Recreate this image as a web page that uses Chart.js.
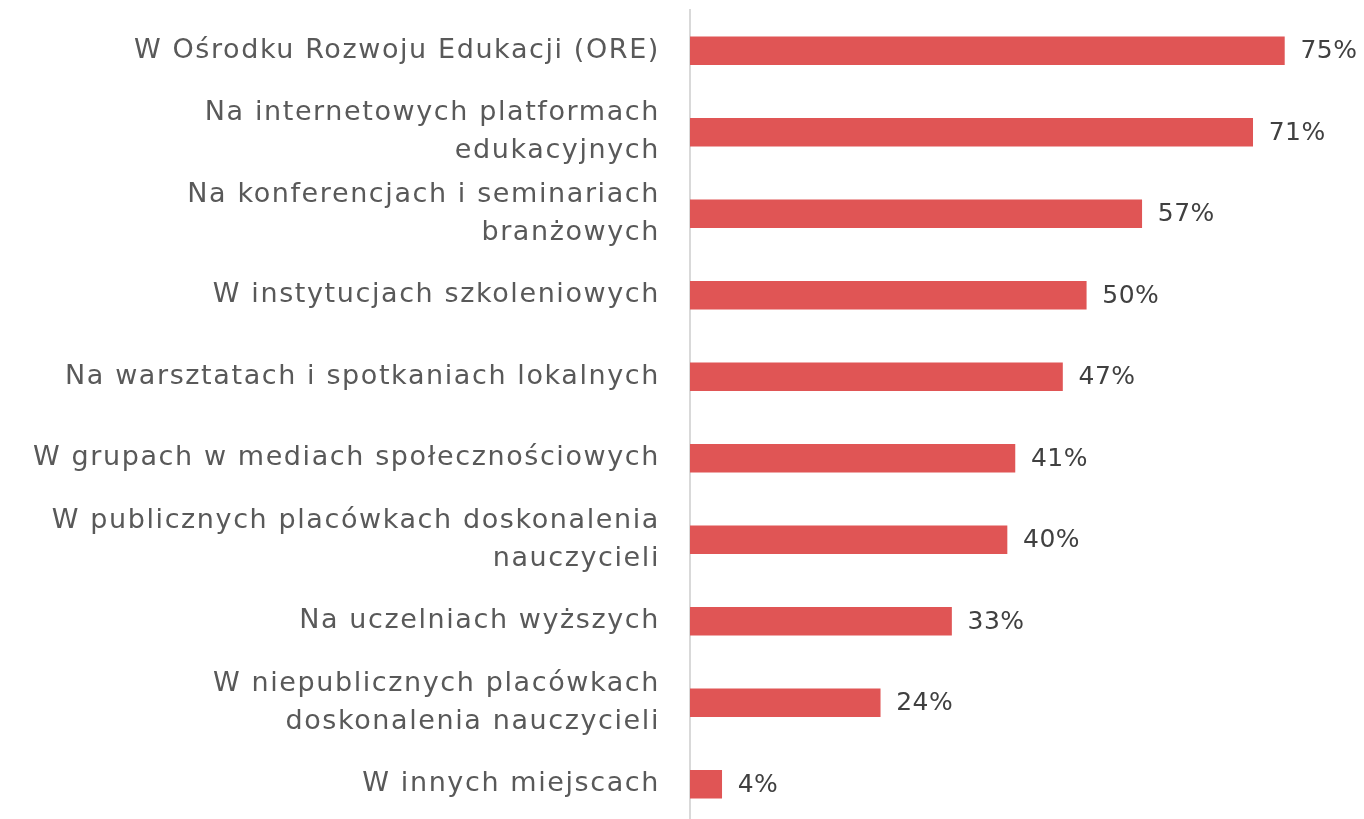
<!DOCTYPE html>
<html>
<head>
<meta charset="utf-8">
<script src="https://cdn.jsdelivr.net/npm/chart.js@4"></script>
<style>
html,body{margin:0;padding:0;background:#fff;overflow:hidden;}
#wrap{width:1364px;height:825px;position:relative;}
</style>
</head>
<body>
<div id="wrap"><canvas id="c"></canvas></div>
<script>
const categories = [
  "W Ośrodku Rozwoju Edukacji (ORE)",
  ["Na internetowych platformach", "edukacyjnych"],
  ["Na konferencjach i seminariach", "branżowych"],
  "W instytucjach szkoleniowych",
  "Na warsztatach i spotkaniach lokalnych",
  "W grupach w mediach społecznościowych",
  ["W publicznych placówkach doskonalenia", "nauczycieli"],
  "Na uczelniach wyższych",
  ["W niepublicznych placówkach", "doskonalenia nauczycieli"],
  "W innych miejscach"
];
const values = [75, 71, 57, 50, 47, 41, 40, 33, 24, 4];

const FONT = "'DejaVu Sans', sans-serif";

const spacing = {
  id: 'spacing',
  beforeDraw(chart) { chart.ctx.letterSpacing = '1.6px'; }
};

const valueLabels = {
  id: 'valueLabels',
  afterDatasetsDraw(chart) {
    const ctx = chart.ctx;
    const meta = chart.getDatasetMeta(0);
    ctx.save();
    ctx.letterSpacing = '0.5px';
    ctx.font = "25px " + FONT;
    ctx.fillStyle = "#404040";
    ctx.textAlign = "left";
    ctx.textBaseline = "middle";
    meta.data.forEach((bar, i) => {
      ctx.fillText(values[i] + "%", bar.x + 16, bar.y + 1);
    });
    ctx.restore();
  }
};

new Chart(document.getElementById('c'), {
  type: 'bar',
  data: {
    labels: categories,
    datasets: [{
      data: values,
      backgroundColor: '#E05555',
      borderWidth: 0,
      barThickness: 28
    }]
  },
  options: {
    indexAxis: 'y',
    responsive: true,
    maintainAspectRatio: false,
    animation: false,
    layout: { padding: { top: 10, right: 40, left: 0, bottom: 0 } },
    plugins: { legend: { display: false }, tooltip: { enabled: false } },
    scales: {
      x: {
        display: false,
        min: 0,
        max: 80
      },
      y: {
        afterFit(scale) { scale.width = 690; scale.paddingTop = 0; scale.paddingBottom = 0; },
        grid: { display: false, drawTicks: false },
        border: { display: true, color: '#D9D9D9', width: 2 },
        ticks: {
          padding: 30,
          color: '#595959',
          font: { family: FONT, size: 27, lineHeight: 1.41 },
          autoSkip: false
        }
      }
    }
  },
  plugins: [spacing, valueLabels]
});
</script>
</body>
</html>
